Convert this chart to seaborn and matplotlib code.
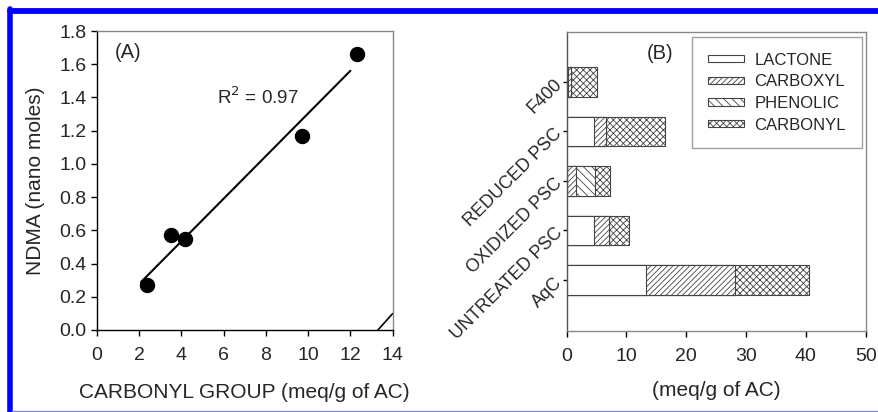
import matplotlib
matplotlib.use("Agg")
import matplotlib.pyplot as plt
from matplotlib.lines import Line2D
import seaborn as sns
import numpy as np
import pandas as pd

# panel A data
carbonyl_x = [2.4, 3.5, 4.2, 9.7, 12.3]
ndma_y = [0.27, 0.57, 0.55, 1.17, 1.66]
fit_range = [2.1, 12.0]

# panel B data (bottom to top)
samples = ["AqC", "UNTREATED PSC", "OXIDIZED PSC", "REDUCED PSC", "F400"]
lactone = [13.3, 4.6, 0.0, 4.5, 0.3]
carboxyl = [14.9, 2.4, 1.6, 2.1, 0.4]
phenolic = [0.0, 0.0, 3.1, 0.0, 0.0]
carbonyl = [12.3, 3.5, 2.5, 9.8, 4.3]
groups = ["LACTONE", "CARBOXYL", "PHENOLIC", "CARBONYL"]
hatches = ["", "//////", "\\\\\\\\", "xxxxx"]

sns.set_style("white")
plt.rcParams["font.family"] = ["Liberation Sans", "DejaVu Sans"]
plt.rcParams["hatch.linewidth"] = 0.6
plt.rcParams["hatch.color"] = "#666666"

fig = plt.figure(figsize=(8.79, 4.12), dpi=100)
W, H = 879, 412
axA = fig.add_axes([96.7 / W, 1 - 330 / H, (392.7 - 96.7) / W, (330 - 31) / H])
axB = fig.add_axes([566.7 / W, 1 - 331 / H, (865.7 - 566.7) / W, (331 - 32.3) / H])

# ---- panel A ----
sns.scatterplot(x=carbonyl_x, y=ndma_y, ax=axA, color="black", s=105, edgecolor="black", zorder=3)
slope, icpt = np.polyfit(carbonyl_x, ndma_y, 1)
xf = np.array(fit_range)
sns.lineplot(x=xf, y=slope * xf + icpt, ax=axA, color="black", lw=1.5)
axA.set_xlim(0, 14)
axA.set_ylim(0, 1.8)
axA.set_xticks(np.arange(0, 15, 2))
yt = np.arange(0, 1.81, 0.2)
axA.set_yticks(yt)
axA.set_yticklabels([f"{v:.1f}" for v in yt])
axA.set_xlabel("CARBONYL GROUP (meq/g of AC)", fontsize=15, labelpad=14)
axA.set_ylabel("NDMA (nano moles)", fontsize=15, labelpad=10)
axA.text(1.47, 1.67, "(A)", fontsize=14.5, ha="center", va="center")
axA.text(5.7, 1.40, "R$^2$ = 0.97", fontsize=13.5, ha="left", va="center")
axA.add_line(Line2D([0.95, 1.0], [0.0, 0.055], transform=axA.transAxes, color="black", lw=1.2))

# ---- panel B ----
stack = np.array([lactone, carboxyl, phenolic, carbonyl])
cum = np.cumsum(stack, axis=0)
df = pd.DataFrame({"sample": samples})
handles = {}
for k in range(3, -1, -1):
    df["val"] = cum[k]
    before = len(axB.patches)
    sns.barplot(data=df, x="val", y="sample", order=samples[::-1], orient="h", ax=axB,
                color="white", edgecolor="#444444", linewidth=0.8, width=0.6)
    for p in axB.patches[before:]:
        p.set_hatch(hatches[k])
        p.set_facecolor("white")
    handles[groups[k]] = axB.patches[before]
axB.set_ylim(5.03, -1.0)
axB.set_xlim(0, 50)
axB.set_xticks(np.arange(0, 51, 10))
axB.set_xlabel("(meq/g of AC)", fontsize=15, labelpad=12)
axB.set_ylabel("")
axB.set_yticks(range(5))
axB.set_yticklabels(samples[::-1], rotation=45, ha="right", va="center",
                    rotation_mode="anchor", fontsize=13)
axB.text(15.6, -0.58, "(B)", fontsize=14.5, ha="center", va="center")
leg = axB.legend([handles[g] for g in groups], groups, loc="upper right",
                 bbox_to_anchor=(0.987, 0.985), borderaxespad=0, fontsize=12,
                 frameon=True, fancybox=False, edgecolor="#888888",
                 handlelength=2.2, handleheight=0.3, labelspacing=0.4,
                 borderpad=0.95, handletextpad=0.6)
leg.get_frame().set_linewidth(1.0)

for ax in (axA, axB):
    ax.tick_params(axis="both", which="both", direction="out", length=4, width=1,
                   labelsize=14, color="black", bottom=True, left=True)
    ax.tick_params(axis="x", pad=8)
    for s in ax.spines.values():
        s.set_color("#888888")
        s.set_linewidth(1.0)
axA.spines["left"].set_color("black")
axA.spines["bottom"].set_color("black")
axB.spines["left"].set_color("#555555")
axB.tick_params(axis="y", length=3, pad=2, labelsize=13)

# blue frame
fig.add_artist(Line2D([10 / W, 1.0], [1 - 11 / H, 1 - 11 / H], color="#0000ff", lw=4.2))
fig.add_artist(Line2D([10 / W, 10 / W], [0, 1 - 8.5 / H], color="#0000ff", lw=4.0))
fig.add_artist(Line2D([12 / W, 1.0], [1 - 411 / H, 1 - 411 / H], color="#8080ff", lw=1.0))

fig.savefig("out.png", dpi=100, facecolor="white")
